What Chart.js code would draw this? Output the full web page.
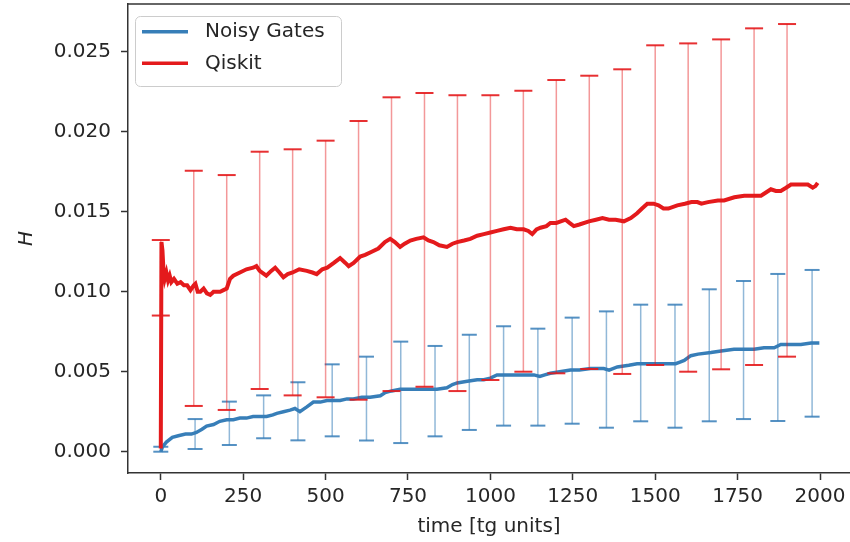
<!DOCTYPE html>
<html><head><meta charset="utf-8">
<script src="https://cdn.jsdelivr.net/npm/chart.js@4"></script>
<style>html,body{margin:0;padding:0;background:#fff;overflow:hidden}canvas{display:block}</style>
</head><body>
<canvas id="c" width="850" height="542"></canvas>
<script>
const seriesNames = ['Noisy Gates', 'Qiskit'];
const xTitle = 'time [tg units]';
const yTitle = 'H';
const xTicks = [0, 250, 500, 750, 1000, 1250, 1500, 1750, 2000];
const yTicks = [0, 0.005, 0.010, 0.015, 0.020, 0.025];

const noisyX = [0,5,17,35,53,75,93,108,125,139,160,179,200,220,240,260,280,301,321,340,352,372,392,407,422,443,463,484,504,524,544,565,584,610,635,666,681,700,726,750,777,810,838,868,885,899,930,960,980,1000,1020,1050,1081,1110,1132,1150,1165,1182,1210,1243,1270,1304,1330,1344,1360,1385,1420,1445,1466,1490,1517,1540,1562,1575,1588,1608,1630,1669,1700,1739,1770,1800,1830,1861,1881,1910,1942,1973,1998];
const noisyY = [0.0000,0.0003,0.0006,0.0009,0.0010,0.0011,0.0011,0.0012,0.0014,0.0016,0.0017,0.0019,0.0020,0.0020,0.0021,0.0021,0.0022,0.0022,0.0022,0.0023,0.0024,0.0025,0.0026,0.0027,0.0025,0.0028,0.0031,0.0031,0.0032,0.0032,0.0032,0.0033,0.0033,0.0034,0.0034,0.0035,0.0037,0.0038,0.0039,0.0039,0.0039,0.0039,0.0039,0.0040,0.0042,0.0043,0.0044,0.0045,0.0045,0.0046,0.0048,0.0048,0.0048,0.0048,0.0048,0.0047,0.0048,0.0049,0.0050,0.0051,0.0051,0.0052,0.0052,0.0052,0.0051,0.0053,0.0054,0.0055,0.0055,0.0055,0.0055,0.0055,0.0055,0.0056,0.0057,0.0060,0.0061,0.0062,0.0063,0.0064,0.0064,0.0064,0.0065,0.0065,0.0067,0.0067,0.0067,0.0068,0.0068];

const qiskitX = [0,2,5,8,12,17,22,27,32,40,50,60,70,80,90,100,105,112,120,130,140,150,160,170,180,190,200,210,220,240,260,280,290,300,320,335,347,360,372,385,400,420,443,460,473,490,505,525,544,560,570,585,605,620,640,660,680,696,710,726,740,757,775,797,812,827,845,868,885,899,920,939,960,980,1000,1020,1040,1061,1080,1101,1115,1127,1140,1152,1170,1182,1200,1228,1240,1253,1270,1299,1320,1340,1360,1380,1405,1426,1445,1460,1476,1495,1510,1525,1540,1567,1590,1610,1628,1640,1660,1690,1709,1740,1770,1800,1821,1836,1851,1866,1881,1897,1912,1930,1950,1963,1978,1986,1993];
const qiskitY = [0.0002,0.0131,0.0126,0.0114,0.0108,0.0112,0.0107,0.0110,0.0106,0.0108,0.0105,0.0106,0.0104,0.0104,0.0101,0.0104,0.0105,0.0100,0.0100,0.0102,0.0099,0.0098,0.0100,0.0100,0.0100,0.0101,0.0102,0.0108,0.0110,0.0112,0.0114,0.0115,0.0116,0.0113,0.0110,0.0113,0.0115,0.0112,0.0109,0.0111,0.0112,0.0114,0.0113,0.0112,0.0111,0.0114,0.0115,0.0118,0.0121,0.0118,0.0116,0.0118,0.0122,0.0123,0.0125,0.0127,0.0131,0.0133,0.0131,0.0128,0.0130,0.0132,0.0133,0.0134,0.0132,0.0131,0.0129,0.0128,0.0130,0.0131,0.0132,0.0133,0.0135,0.0136,0.0137,0.0138,0.0139,0.0140,0.0139,0.0139,0.0138,0.0136,0.0139,0.0140,0.0141,0.0143,0.0143,0.0145,0.0143,0.0141,0.0142,0.0144,0.0145,0.0146,0.0145,0.0145,0.0144,0.0146,0.0149,0.0152,0.0155,0.0155,0.0154,0.0152,0.0152,0.0154,0.0155,0.0156,0.0156,0.0155,0.0156,0.0157,0.0157,0.0159,0.0160,0.0160,0.0160,0.0162,0.0164,0.0163,0.0163,0.0165,0.0167,0.0167,0.0167,0.0167,0.0165,0.0166,0.0168];

const noisyErrX  = [0,104,208,312,416,520,624,728,832,936,1040,1144,1248,1352,1456,1560,1664,1768,1872,1976];
const noisyErrLo = [0.0000,0.00017,0.00042,0.00084,0.00071,0.00096,0.00070,0.00054,0.00096,0.00136,0.00163,0.00163,0.00175,0.00150,0.00190,0.00150,0.00190,0.00204,0.00192,0.00219];
const noisyErrHi = [0.00031,0.00204,0.00313,0.00352,0.00434,0.00546,0.00594,0.00688,0.00661,0.00731,0.00784,0.00769,0.00838,0.00877,0.00919,0.00919,0.01015,0.01067,0.01111,0.01136];

const qiskitErrX  = [0,100,200,300,400,500,600,700,800,900,1000,1100,1200,1300,1400,1500,1600,1700,1800,1900];
const qiskitErrLo = [0.00851,0.00286,0.00261,0.00392,0.00352,0.00340,0.00325,0.00379,0.00406,0.00379,0.00448,0.00500,0.00490,0.00517,0.00486,0.00542,0.00500,0.00515,0.00542,0.00594];
const qiskitErrHi = [0.01323,0.01756,0.01729,0.01875,0.01890,0.01944,0.02067,0.02215,0.02242,0.02228,0.02228,0.02256,0.02323,0.02350,0.02390,0.02540,0.02552,0.02577,0.02646,0.02673];

const BLUE = '#377eb8', RED = '#e41a1c';
const FONT = {family: "'DejaVu Sans', sans-serif", size: 20};
const TXT = '#262626', AX = '#333333';

function pts(xs, ys) { return xs.map((x, i) => ({x: x, y: ys[i]})); }
function errPts(xs, lo, hi) {
  const d = [];
  xs.forEach((x, i) => { d.push({x: x, y: lo[i]}); d.push({x: x, y: hi[i]}); d.push({x: x, y: null}); });
  return d;
}

const frame = {
  id: 'frame',
  afterDatasetsDraw(chart) {
    const {ctx, chartArea: a} = chart;
    ctx.save();
    ctx.strokeStyle = AX; ctx.lineWidth = 1.5;
    ctx.beginPath(); ctx.moveTo(a.left, a.top); ctx.lineTo(chart.width, a.top); ctx.stroke();
    ctx.restore();
  }
};

const legendBox = {
  id: 'legendBox',
  afterDraw(chart) {
    const ctx = chart.ctx;
    const items = chart.data.datasets.filter(d => d.label);
    ctx.save();
    ctx.beginPath();
    ctx.roundRect(135.5, 16.5, 206, 70, 5);
    ctx.fillStyle = 'rgba(255,255,255,0.8)'; ctx.fill();
    ctx.strokeStyle = '#cccccc'; ctx.lineWidth = 1; ctx.stroke();
    items.forEach((d, i) => {
      const y = 31.7 + i * 31.6;
      ctx.strokeStyle = d.borderColor; ctx.lineWidth = 3.5;
      ctx.beginPath(); ctx.moveTo(142, y); ctx.lineTo(188, y); ctx.stroke();
      ctx.fillStyle = TXT; ctx.font = "20px 'DejaVu Sans', sans-serif";
      ctx.textBaseline = 'middle'; ctx.textAlign = 'left';
      ctx.fillText(d.label, 205, y);
    });
    ctx.restore();
  }
};

new Chart(document.getElementById('c'), {
  type: 'scatter',
  data: {
    datasets: [
      {label: seriesNames[0], data: pts(noisyX, noisyY), showLine: true, borderColor: BLUE, backgroundColor: BLUE,
       borderWidth: 3.5, pointRadius: 0, order: 2},
      {data: errPts(noisyErrX, noisyErrLo, noisyErrHi), showLine: true, spanGaps: false,
       borderColor: 'rgba(55,126,184,0.55)', borderWidth: 1.5, pointStyle: 'line', pointRadius: 7.5,
       pointBorderColor: 'rgba(55,126,184,0.85)', pointBorderWidth: 2, order: 3},
      {label: seriesNames[1], data: pts(qiskitX, qiskitY), showLine: true, borderColor: RED, backgroundColor: RED,
       borderWidth: 4, pointRadius: 0, order: 0},
      {data: errPts(qiskitErrX, qiskitErrLo, qiskitErrHi), showLine: true, spanGaps: false,
       borderColor: 'rgba(228,26,28,0.45)', borderWidth: 1.5, pointStyle: 'line', pointRadius: 9,
       pointBorderColor: 'rgba(228,26,28,0.9)', pointBorderWidth: 2, order: 1}
    ]
  },
  options: {
    responsive: false, animation: false, events: [],
    layout: {autoPadding: false, padding: {top: 4, right: 0, bottom: 0, left: 0}},
    plugins: {legend: {display: false}, tooltip: {enabled: false}},
    scales: {
      x: {
        type: 'linear', min: -99.5, max: 2091,
        afterBuildTicks: s => { s.ticks = xTicks.map(v => ({value: v})); },
        afterFit: s => { s.height = 69; s.paddingLeft = 0; s.paddingRight = 0; },
        ticks: {font: FONT, color: TXT, padding: 5, maxRotation: 0, autoSkip: false, callback: v => String(v)},
        grid: {drawOnChartArea: false, drawTicks: true, tickLength: 7, tickColor: AX, tickWidth: 1.5},
        border: {display: true, color: AX, width: 1.5},
        title: {display: true, text: xTitle, font: FONT, color: TXT, padding: {top: 0, bottom: 3}}
      },
      y: {
        type: 'linear', min: -0.001331, max: 0.027982,
        afterBuildTicks: s => { s.ticks = yTicks.map(v => ({value: v})); },
        afterFit: s => { s.width = 128; s.paddingTop = 0; s.paddingBottom = 0; },
        ticks: {font: FONT, color: TXT, padding: 10, callback: v => v.toFixed(3)},
        grid: {drawOnChartArea: false, drawTicks: true, tickLength: 7, tickColor: AX, tickWidth: 1.5},
        border: {display: true, color: AX, width: 1.5},
        title: {display: true, text: yTitle, font: Object.assign({}, FONT, {style: 'italic'}), color: TXT, padding: {top: 15, bottom: 0}}
      }
    }
  },
  plugins: [frame, legendBox]
});
</script>
</body></html>
